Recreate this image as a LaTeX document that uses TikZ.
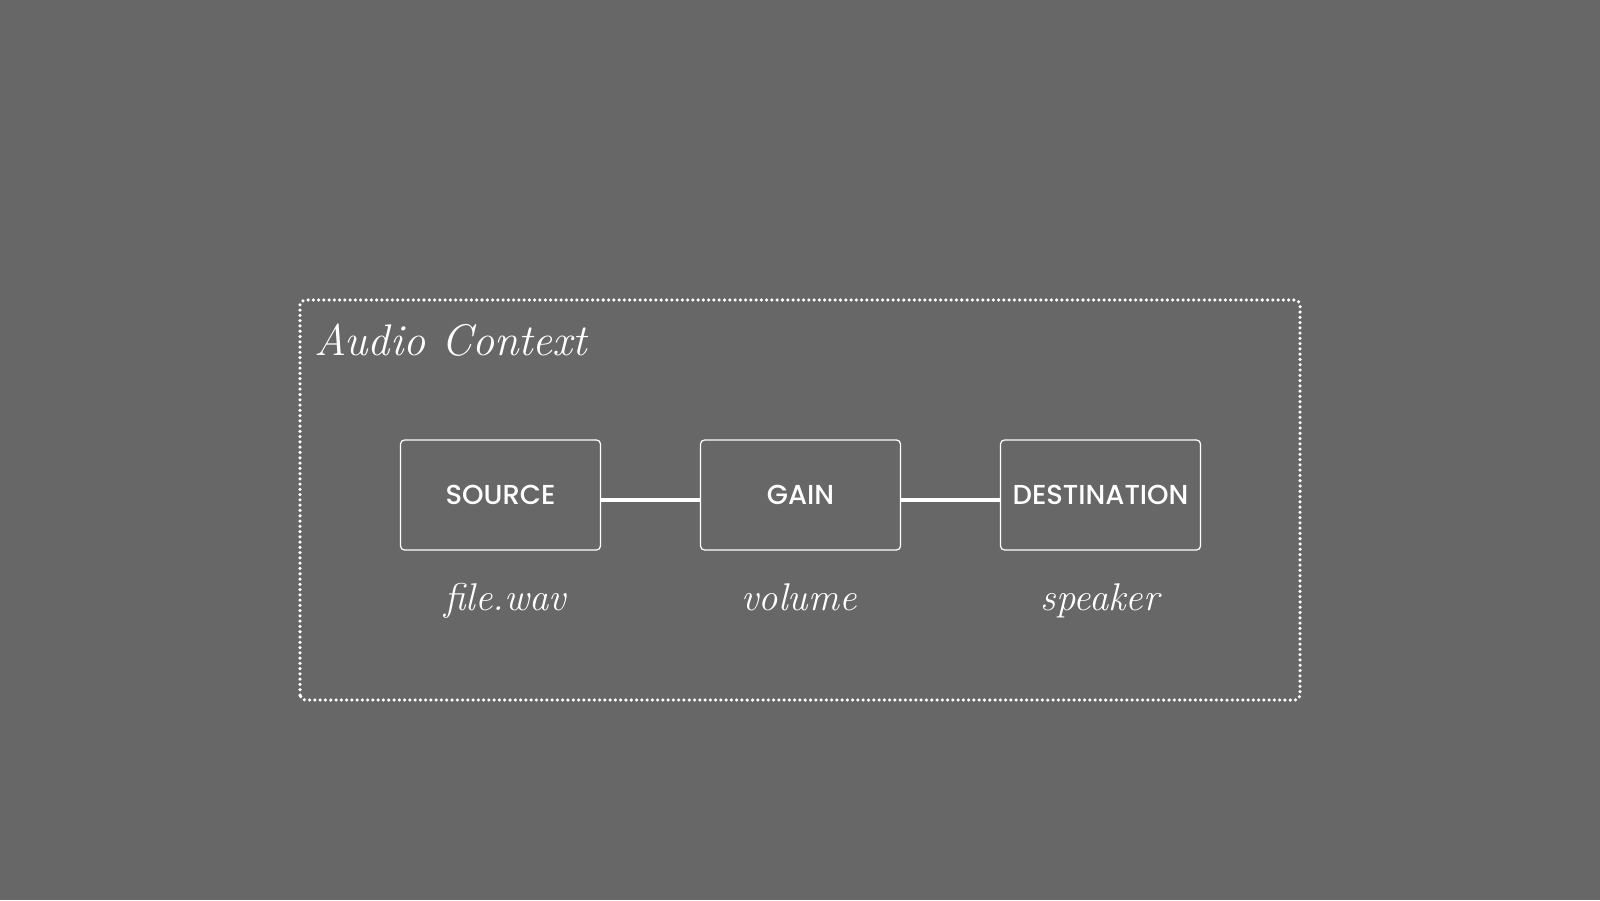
\documentclass[tikz,border=0pt]{standalone}
\usepackage{fontspec}
\newfontfamily\boxfont{Poppins}[UprightFont={* Medium}]
\usepackage{tikz}
\usetikzlibrary{calc,positioning}
\definecolor{bggray}{HTML}{676767}

\begin{document}
\begin{tikzpicture}[
    nodebox/.style={draw=white, line width=0.35pt, rounded corners=0.04cm,
        minimum width=2cm, minimum height=1.1cm, inner sep=0pt,
        text=white, font=\boxfont\fontsize{7.8}{9}\selectfont},
    caption/.style={text=white, anchor=base, inner sep=0pt,
        font=\itshape\fontsize{11}{12}\selectfont},
    wire/.style={white, line width=1.2pt},
    frame/.style={white, line width=1pt, line cap=round,
        dash pattern=on 0pt off 1.5pt, rounded corners=0.05cm}
]
    % Background and page size
    \fill[bggray] (0,0) rectangle (16,9);
    \useasboundingbox (0,0) rectangle (16,9);
    % Dotted context frame
    \draw[frame] (3,2) rectangle (13,6);
    \node[text=white, anchor=base west, inner sep=0pt,
        font=\itshape\fontsize{12.6}{14}\selectfont] (ctxlbl) at (3.14,5.45) {Audio Context};
    % Audio nodes
    \node[nodebox] (src) at (5.005,4.05) {SOURCE};
    \node[nodebox] (gain) at (8.005,4.05) {GAIN};
    \node[nodebox] (dest) at (11.005,4.05) {DESTINATION};
    % Connections
    \draw[wire] ([yshift=-0.05cm]src.east) -- ([yshift=-0.05cm]gain.west);
    \draw[wire] ([yshift=-0.05cm]gain.east) -- ([yshift=-0.05cm]dest.west);
    % Captions under the nodes
    \node[caption] (srclbl) at (5.05,2.9) {file.wav};
    \node[caption] (gainlbl) at (7.99,2.9) {volume};
    \node[caption] (destlbl) at (11.0,2.9) {speaker};
\end{tikzpicture}
\end{document}
